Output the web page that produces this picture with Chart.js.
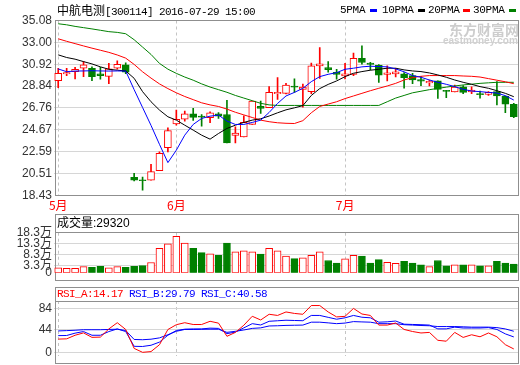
<!DOCTYPE html>
<html>
<head>
<meta charset="utf-8">
<script src="https://cdn.jsdelivr.net/npm/chart.js@4.4.1/dist/chart.umd.min.js"></script>
<style>
  body { margin: 0; background: #fff; }
  #stage { position: relative; width: 520px; height: 365px; overflow: hidden; background: #fff; }
  #stage canvas { position: absolute; left: 0; }
  .lbl { position: absolute; white-space: nowrap; line-height: 14px; }
  .mono { font-family: 'Liberation Mono', monospace; font-size: 11px; letter-spacing: -0.6px; }
  .dash { position: absolute; width: 7px; height: 3px; top: 9px; }
</style>
</head>
<body>
<div id="stage">
  <canvas id="kline" width="520" height="215" style="top:0"></canvas>
  <canvas id="vol" width="520" height="68" style="top:214px"></canvas>
  <canvas id="rsi" width="520" height="79" style="top:286px"></canvas>

  <div class="lbl" style="left:57px;top:3px;color:#000"><span style="font-size:12px;font-family:'Noto Sans CJK SC'">中航电测</span><span class="mono">[300114] 2016-07-29 15:00</span></div>

  <div class="lbl mono" style="left:340px;top:3px;letter-spacing:-0.3px">5PMA</div>
  <div class="dash" style="left:370px;background:#0000ff"></div>
  <div class="lbl mono" style="left:382px;top:3px;letter-spacing:-0.3px">10PMA</div>
  <div class="dash" style="left:418px;background:#000"></div>
  <div class="lbl mono" style="left:428px;top:3px;letter-spacing:-0.3px">20PMA</div>
  <div class="dash" style="left:463px;background:#ff0000"></div>
  <div class="lbl mono" style="left:473px;top:3px;letter-spacing:-0.3px">30PMA</div>
  <div class="dash" style="left:509px;background:#008000"></div>

  <div class="lbl" style="left:449px;top:21px;font-weight:bold;font-size:14px;font-family:'Noto Sans CJK SC';color:#cdcdcd;line-height:16px">东方财富网</div>
  <div class="lbl" style="left:443px;top:36px;font-weight:bold;font-size:10px;font-family:'Liberation Sans';color:#d0d0d0;line-height:10px">eastmoney.com</div>

  <div class="lbl" style="left:57px;top:216px;font-size:12px;font-family:'Liberation Sans','Noto Sans CJK SC';color:#000">成交量:29320</div>
  <div class="lbl mono" style="left:57px;top:287px"><span style="color:#ff0000">RSI_A:14.17</span> <span style="color:#0000ff">RSI_B:29.79</span> <span style="color:#0000ff">RSI_C:40.58</span></div>
</div>

<script>
// daily candles, 55 sessions (May 2016 -> 2016-07-29)
const open  = [29.36,30.00,30.22,30.54,30.54,30.00,29.77,30.54,30.86,20.16,19.93,19.90,20.79,22.99,25.25,25.70,26.21,25.98,25.83,26.21,26.14,24.14,24.01,25.19,26.91,26.78,28.11,28.15,28.83,28.53,28.31,30.76,30.60,30.16,29.81,29.96,31.49,31.02,30.82,29.94,30.00,30.00,29.84,29.46,29.14,29.33,28.43,28.28,28.78,28.28,28.12,28.05,28.31,27.90,27.10];
const high  = [30.54,30.54,30.63,31.17,30.67,30.63,31.00,31.24,31.05,20.54,20.19,21.40,22.58,24.87,26.56,26.46,26.72,26.14,26.40,26.33,27.48,24.96,26.01,27.42,27.42,28.79,29.65,29.10,29.52,29.04,31.02,32.51,31.17,30.44,31.00,31.97,32.67,31.11,30.89,30.76,30.54,30.12,30.06,29.77,29.42,29.33,28.43,28.94,28.88,28.78,28.37,28.31,29.26,27.90,27.20];
const low   = [28.69,29.84,29.52,29.74,29.36,29.49,29.07,30.44,30.03,19.81,18.93,19.90,20.79,22.58,25.12,25.51,25.57,25.03,25.35,25.76,23.44,23.44,24.01,25.19,26.24,26.78,27.58,28.10,28.24,26.84,28.12,29.58,30.16,29.49,29.52,29.84,30.92,30.38,29.20,29.33,29.71,28.63,29.07,28.88,28.85,27.67,27.74,28.28,28.12,28.12,27.70,27.96,27.04,26.30,25.83];
const close = [30.06,30.12,30.44,30.86,29.74,29.84,30.47,30.92,30.16,19.90,19.84,20.70,22.45,24.61,25.67,26.21,25.86,25.89,26.30,25.98,23.44,24.36,25.38,27.42,26.72,28.24,28.24,28.94,28.74,28.75,30.76,30.95,30.41,29.96,30.00,31.49,31.08,30.89,29.87,30.09,30.19,29.65,29.42,29.30,29.30,28.53,28.34,28.75,28.24,28.47,28.02,28.24,27.90,27.13,25.92];

// moving averages as drawn on the chart
const ma5  = [30.47,30.21,30.27,30.28,30.30,30.28,30.27,30.28,30.27,28.50,26.80,25.10,23.30,21.56,22.74,24.17,25.19,25.76,25.98,26.08,25.51,25.19,25.19,25.38,25.60,26.33,27.19,27.90,28.24,28.63,29.26,29.74,29.96,30.12,30.44,30.54,30.67,30.73,30.70,30.67,30.47,30.20,29.84,29.68,29.42,29.20,29.01,28.79,28.53,28.37,28.31,28.24,28.18,27.93,27.51];
const ma10 = [31.81,31.56,31.40,31.17,30.95,30.67,30.44,30.35,30.28,29.58,28.31,27.35,26.56,25.92,25.60,25.12,24.65,24.17,23.79,24.33,24.81,25.12,25.38,25.60,25.73,25.99,26.30,26.58,26.77,26.98,27.95,28.60,29.00,29.33,29.74,30.06,30.22,30.35,30.44,30.54,30.54,30.38,30.28,30.22,30.09,29.90,29.68,29.42,29.20,29.01,28.79,28.63,28.40,28.15,27.83];
const ma20 = [33.34,33.10,32.88,32.66,32.45,32.25,32.05,31.80,31.50,30.90,30.20,29.60,29.05,28.60,28.20,27.85,27.55,27.25,27.05,26.90,26.65,26.35,26.10,25.85,25.60,25.45,25.35,25.30,25.28,25.55,26.30,26.90,27.13,27.35,27.65,27.90,28.15,28.40,28.63,28.85,29.10,29.42,29.65,29.77,29.84,29.84,29.84,29.84,29.80,29.77,29.70,29.55,29.40,29.25,29.07];
const ma30 = [34.77,34.67,34.52,34.40,34.28,34.15,34.02,33.95,33.82,33.25,32.55,31.85,31.00,30.45,30.05,29.70,29.40,29.05,28.75,28.50,28.25,27.95,27.70,27.45,27.20,27.05,27.00,27.00,27.00,27.00,27.00,27.00,27.00,27.00,27.00,27.00,27.00,27.00,27.00,27.35,27.70,27.95,28.20,28.35,28.50,28.62,28.74,28.85,28.95,29.02,29.10,29.15,29.20,29.20,29.20];

// volume, in 万 lots
const volume = [2.3,2.0,2.0,2.8,2.5,2.9,2.3,2.8,2.5,2.9,3.3,4.7,11.2,13.2,16.7,13.6,11.2,9.2,8.7,8.0,13.6,9.6,10.0,9.6,8.5,11.2,10.0,7.6,6.5,6.8,8.0,9.6,5.6,4.4,6.4,8.0,7.6,4.4,6.0,4.8,4.3,5.2,4.4,3.6,2.8,5.6,3.2,3.6,3.6,3.6,3.2,3.2,5.2,4.4,4.0];

// RSI lines
const rsiA = [25.7,26.2,33.0,37.5,29.0,29.5,45.0,56.8,44.0,8.0,0.6,2.0,15.0,43.9,53.0,56.8,53.4,53.4,59.5,56.0,31.0,38.4,52.0,69.0,62.0,72.8,70.6,77.2,74.4,72.8,89.4,89.4,77.2,67.8,68.9,83.9,73.3,70.6,52.3,52.3,56.2,44.0,40.1,37.3,38.4,23.4,21.7,38.4,28.9,33.9,30.1,37.3,30.1,15.1,7.0];
const rsiB = [32.3,32.5,37.0,40.0,33.0,33.0,40.0,45.0,40.0,12.0,11.7,14.0,20.0,33.0,42.0,44.5,45.0,45.0,46.5,46.0,36.0,39.0,47.0,55.0,52.5,59.5,60.5,61.5,61.0,60.6,70.6,70.6,67.0,63.4,66.1,70.6,67.2,66.1,57.8,58.5,60.0,54.0,53.5,53.0,52.3,45.1,45.1,48.4,46.7,46.7,46.7,47.5,44.0,35.6,29.8];
const rsiC = [41.2,41.8,42.5,43.5,43.5,43.5,44.0,44.5,42.0,25.0,24.5,25.5,28.0,34.0,40.5,44.0,44.0,44.3,44.5,44.5,38.5,40.5,43.0,46.0,47.0,50.6,51.0,51.7,52.0,52.3,57.8,57.8,56.5,55.0,56.1,58.9,58.3,57.8,55.0,55.0,55.0,53.0,52.3,51.5,51.0,49.5,49.5,49.5,49.0,48.4,48.4,48.4,47.5,45.0,40.6];

// axis ticks and month marks
const priceTicks = [18.43, 20.51, 22.59, 24.67, 26.76, 28.84, 30.92, 33.00, 35.08];
const volTicks = [0, 3.3, 8.3, 13.3, 18.3];
const rsiTicks = [0, 44, 84];
const monthIndex = [0, 14, 34];
const monthNames = ['5月', '6月', '7月'];

const labels = open.map((_, i) => {
  const k = monthIndex.indexOf(i);
  return k >= 0 ? monthNames[k] : '';
});
const isUp = open.map((o, i) => close[i] >= o);
const RED = '#ff0000', GREEN = '#008000';

Chart.defaults.font.family = "'Liberation Sans', 'Noto Sans CJK SC', sans-serif";
Chart.defaults.font.size = 12;

// panel frames (outer box + header separator)
const framePlugin = {
  id: 'frame',
  beforeDatasetsDraw(chart, args, opts) {
    const ctx = chart.ctx;
    ctx.save();
    ctx.strokeStyle = '#8f8f8f';
    ctx.lineWidth = 1;
    ctx.strokeRect(55.5, opts.top, 463, opts.bottom - opts.top);
    if (opts.sep) {
      ctx.beginPath();
      ctx.moveTo(55.5, opts.sep);
      ctx.lineTo(518.5, opts.sep);
      ctx.stroke();
    }
    ctx.restore();
  }
};

function monthGridX(showLabels) {
  return {
    grid: {
      offset: false,
      drawTicks: false,
      color: '#c4c4c4',
      lineWidth: c => monthIndex.includes(c.index) ? 1 : 0
    },
    border: { display: false, dash: [3, 3] },
    ticks: showLabels
      ? { autoSkip: false, maxRotation: 0, minRotation: 0, color: RED, padding: 3,
          font: { size: 12, family: "'Noto Sans CJK SC'" } }
      : { display: false },
    afterFit: s => { s.height = showLabels ? 19.5 : 0; }
  };
}

function fixedY(min, max, ticks, fmt) {
  return {
    min, max,
    afterBuildTicks: s => { s.ticks = ticks.map(v => ({ value: v })); },
    afterFit: s => { s.width = 54; },
    ticks: { callback: fmt, autoSkip: false, color: '#333', padding: 2, font: { size: 12 } },
    grid: {
      drawTicks: false,
      color: '#d6d6d6',
      lineWidth: c => (c.tick && (c.tick.value <= min || c.tick.value >= max)) ? 0 : 1
    },
    border: { display: false }
  };
}

const baseOpts = {
  responsive: false,
  animation: false,
  events: [],
  plugins: { legend: { display: false }, tooltip: { enabled: false } }
};

// price panel
new Chart(document.getElementById('kline'), {
  type: 'bar',
  data: {
    labels,
    datasets: [
      { type: 'line', data: ma5,  borderColor: '#0000ff', borderWidth: 1, pointRadius: 0, order: 0 },
      { type: 'line', data: ma10, borderColor: '#000000', borderWidth: 1, pointRadius: 0, order: 0 },
      { type: 'line', data: ma20, borderColor: RED, borderWidth: 1, pointRadius: 0, order: 0 },
      { type: 'line', data: ma30, borderColor: GREEN, borderWidth: 1, pointRadius: 0, order: 0 },
      {
        data: open.map((o, i) => [o, close[i]]),
        backgroundColor: isUp.map(u => u ? '#ffffff' : GREEN),
        borderColor: isUp.map(u => u ? RED : GREEN),
        borderWidth: 1, borderSkipped: false, barThickness: 7, grouped: false, order: 1
      },
      {
        data: low.map((l, i) => [l, high[i]]),
        backgroundColor: isUp.map(u => u ? RED : GREEN),
        borderWidth: 0, barThickness: 1, grouped: false, order: 2
      }
    ]
  },
  options: {
    ...baseOpts,
    layout: { padding: { left: 0, right: 2, top: 20.5, bottom: 0 } },
    scales: {
      x: monthGridX(true),
      y: fixedY(18.43, 35.08, priceTicks, v => v.toFixed(2))
    },
    plugins: { ...baseOpts.plugins, frame: { top: 20.5, bottom: 195.5 } }
  },
  plugins: [framePlugin]
});

// volume panel
new Chart(document.getElementById('vol'), {
  type: 'bar',
  data: {
    labels,
    datasets: [{
      data: volume,
      backgroundColor: isUp.map(u => u ? '#ffffff' : GREEN),
      borderColor: isUp.map(u => u ? RED : GREEN),
      borderWidth: 1, borderSkipped: false, barThickness: 7
    }]
  },
  options: {
    ...baseOpts,
    layout: { padding: { left: 0, right: 2, top: 18.7, bottom: 2.5 } },
    scales: {
      x: monthGridX(false),
      y: fixedY(0, 18.3, volTicks, v => v === 0 ? '0' : v.toFixed(1) + '万')
    },
    plugins: { ...baseOpts.plugins, frame: { top: 0.5, sep: 18.5, bottom: 66.5 } }
  },
  plugins: [framePlugin]
});

// RSI panel
new Chart(document.getElementById('rsi'), {
  type: 'line',
  data: {
    labels,
    datasets: [
      { data: rsiA, borderColor: RED, borderWidth: 1, pointRadius: 0 },
      { data: rsiB, borderColor: '#0000ff', borderWidth: 1, pointRadius: 0 },
      { data: rsiC, borderColor: '#0000ff', borderWidth: 1, pointRadius: 0 }
    ]
  },
  options: {
    ...baseOpts,
    layout: { padding: { left: 0, right: 2, top: 15, bottom: 1.7 } },
    scales: {
      x: { ...monthGridX(false), offset: true },
      y: fixedY(-6, 98, rsiTicks, v => String(v))
    },
    plugins: { ...baseOpts.plugins, frame: { top: 1.5, sep: 15.5, bottom: 77.5 } }
  },
  plugins: [framePlugin]
});
</script>
</body>
</html>
